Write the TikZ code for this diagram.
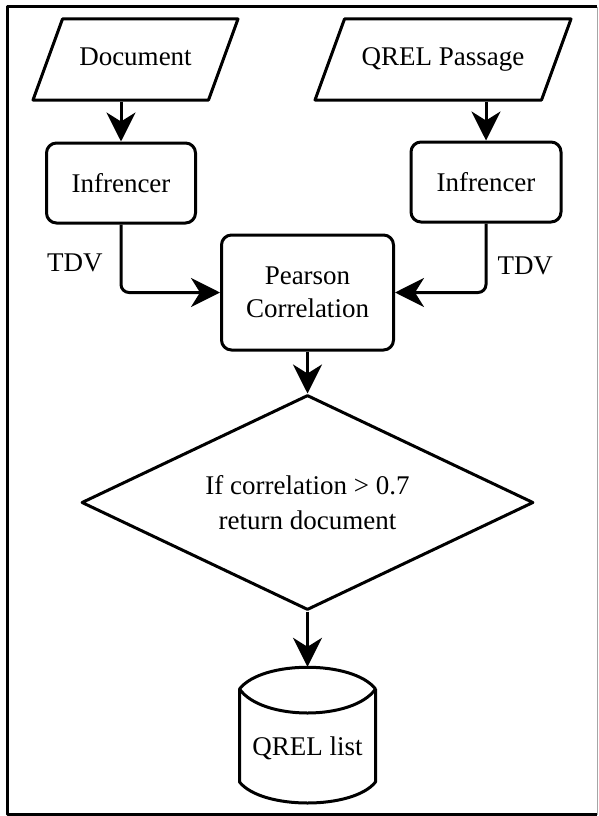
\documentclass[tikz,border=0pt]{standalone}
\usepackage{fontspec}
\setmainfont{Liberation Serif}
\newfontfamily\flowfont{Liberation Serif}
\usetikzlibrary{arrows.meta,shapes.geometric}

\begin{document}
\begin{tikzpicture}[
    x=1pt, y=-1pt,
    font=\flowfont\fontsize{27}{33}\selectfont,
    line join=round,
    flow/.style={
        -{Stealth[length=29pt,width=29pt,inset=9pt]},
        line width=3pt
    },
    datain/.style={
        draw,
        trapezium,
        trapezium left angle=70,
        trapezium right angle=110,
        trapezium stretches body=true,
        text height=19pt,
        text depth=6pt,
        inner ysep=28pt,
        inner xsep=0pt,
        line width=3pt
    },
    proc/.style={
        draw,
        rounded corners=10pt,
        minimum height=80pt,
        align=center,
        line width=3pt
    },
    decide/.style={
        draw,
        diamond,
        aspect=2.1,
        minimum width=452pt,
        minimum height=215pt,
        inner sep=0pt,
        align=center,
        line width=3pt
    },
    tag/.style={inner sep=0pt}
]

\useasboundingbox (0,0) rectangle (598,816);
\draw[line width=3pt] (597,7) -- (7.5,7) -- (7.5,814.5) -- (597,814.5);
\draw[line width=1pt, black!35] (597.5,7) -- (597.5,814.5);

\node[datain, minimum width=205pt] (doc) at (135.5,59.5) {Document};
\node[datain, minimum width=256pt] (qpass) at (443,59.5) {QREL Passage};

\node[proc, minimum width=149pt] (infdoc) at (121,183) {Infrencer};
\node[proc, minimum width=150pt] (infqp) at (486,182) {Infrencer};

\node[proc, minimum width=172pt, minimum height=115pt] (pearson) at (307.5,292.5) {Pearson\\Correlation};

\node[decide, font=\flowfont\fontsize{27}{35}\selectfont] (cond) at (307.5,502.5) {If correlation > 0.7\\return document};

\node[minimum width=136pt, minimum height=162pt, inner sep=0pt] (qrel) at (307.5,748) {QREL list};
\draw[line width=3pt] (239.5,689) .. controls (262,660) and (353,660) .. (375.5,689)
    .. controls (353,721) and (262,721) .. (239.5,689) -- (239.5,782)
    .. controls (262,810) and (353,810) .. (375.5,782) -- (375.5,689);

\draw[flow] (doc.south -| infdoc.north) -- (infdoc.north);
\draw[flow] (qpass.south -| infqp.north) -- (infqp.north);
\draw[flow, rounded corners=8pt] (infdoc.south) |- node[tag, pos=.28, left=17pt] (tdvdoc) {TDV} (pearson.west);
\draw[flow, rounded corners=8pt] (infqp.south) |- node[tag, pos=.31, right=10pt] (tdvqp) {TDV} (pearson.east);
\draw[flow] (pearson.south) -- (cond.north);
\draw[flow] (cond.south) -- (qrel.north);

\end{tikzpicture}
\end{document}
